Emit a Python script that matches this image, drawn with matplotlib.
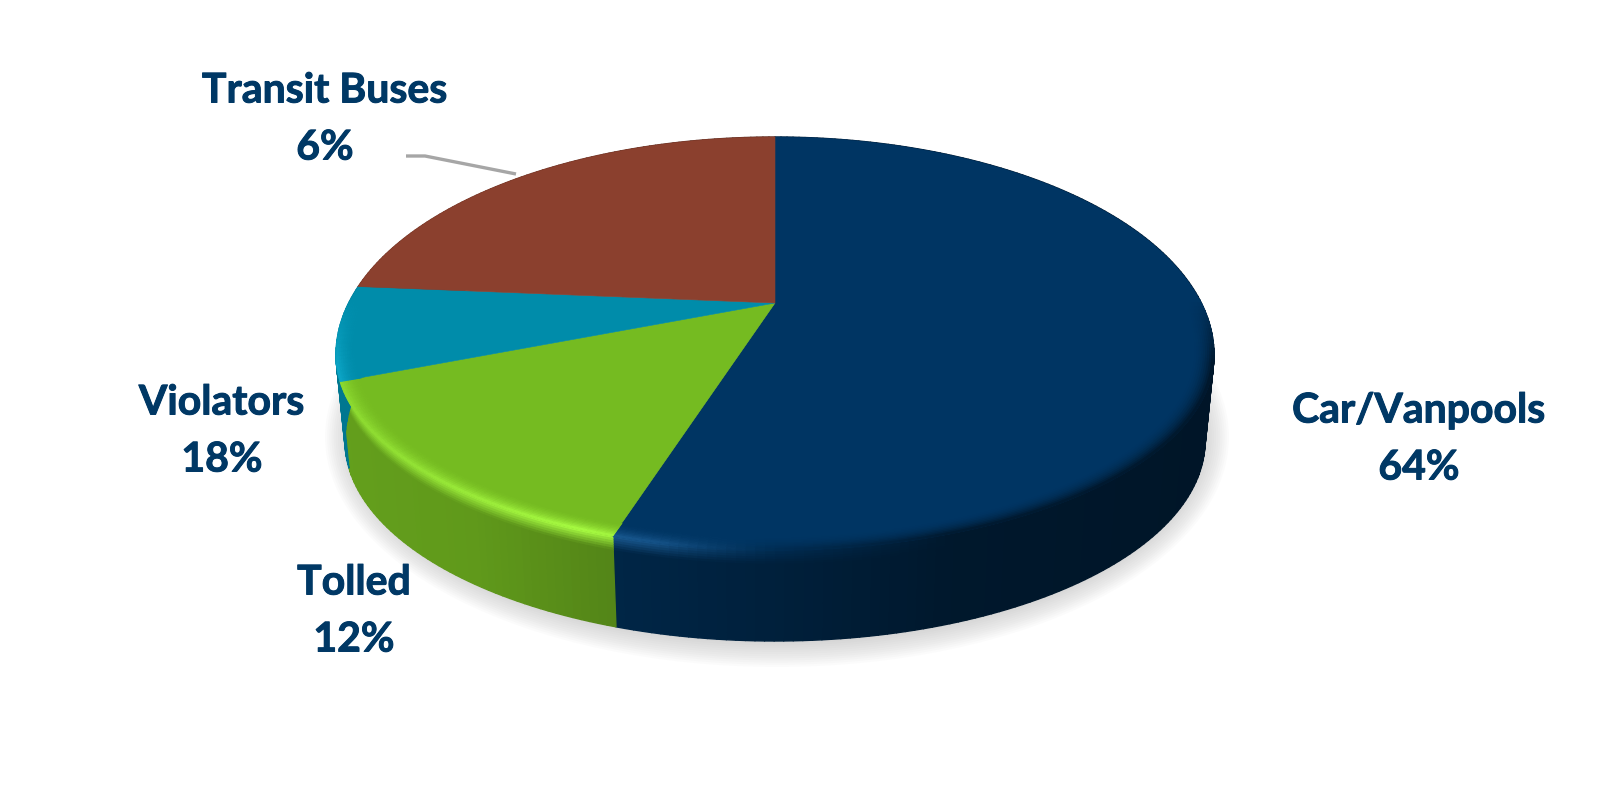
import numpy as np
import matplotlib
matplotlib.use('Agg')
import matplotlib.pyplot as plt
import matplotlib.patheffects as pe
from matplotlib.collections import PolyCollection
from matplotlib.patches import Ellipse

# Slice shares as drawn (the printed percentages in the source differ from the drawn areas)
slice_names = ['Car/Vanpools', 'Tolled', 'Teal slice', 'Brown slice']
slice_shares = [54.75, 14.35, 7.2, 23.7]
slice_colors = [(0, 53, 99), (117, 187, 33), (0, 140, 170), (139, 64, 46)]

label_names = ['Transit Buses', 'Violators', 'Tolled', 'Car/Vanpools']
label_percents = ['6%', '18%', '12%', '64%']
label_x = [325, 222, 354, 1419]
label_y = [91, 403, 583, 411]

text_color = '#003865'

# Perspective of the pie, in pixels. The outline is egg shaped: the half above
# the widest line is taller than the half below it.
cx = 775
top_cy, top_a, top_up, top_down = 355, 439, 218, 195
low_cy, low_a, low_up, low_down = 441, 430, 218, 200
tilt = 0.2385


def disc(theta, r=1.0):
    # clockwise from 12 o'clock, pushed through the perspective
    x = r * np.sin(theta)
    y = r * np.cos(theta)
    d = 1 + tilt * y
    return x * np.sqrt(1 - tilt ** 2) / d, (y + tilt) / d


def to_pixels(x, y, v=0.0):
    a = top_a + (low_a - top_a) * v
    c = top_cy + (low_cy - top_cy) * v
    up = top_up + (low_up - top_up) * v
    down = top_down + (low_down - top_down) * v
    return cx + a * x, c - np.where(y > 0, up, down) * y


def surface(theta, v):
    # v<0 is the bevel on the top face, v 0..1 runs down the side wall
    if v < 0:
        x, y = disc(theta, 1 + .045 * v)
        return to_pixels(x, y)
    x, y = disc(theta)
    return to_pixels(x, y, v)


def shade_rows(base, theta):
    base = np.array(base, dtype=float)
    x, y = disc(theta)
    side_f = np.interp(x, [-1, -.7, -.4, 0, .4, 1], [.85, .82, .72, .6, .45, .4])
    side = base * side_f
    k = np.interp(x, [-1, -.45, -.25, 0, 1], [.45, 1, .8, 0, 0])
    light = base * (1 + .22 * k) + 28 * k
    dark = np.interp(x, [-.3, .1, .4], [0, .6, 1])
    rim = light * (1 - dark) + side * dark
    w = np.clip((.25 - y) / .3, 0, 1)
    return base, rim, side, w


edges = np.cumsum([0] + slice_shares) / sum(slice_shares) * 2 * np.pi
bands = np.concatenate([np.linspace(-1, 0, 11), np.linspace(0, .16, 7)[1:], [1]])

side_polys, side_colors, bevel_polys, bevel_colors = [], [], [], []
for i, base in enumerate(slice_colors):
    n = max(int((edges[i + 1] - edges[i]) / np.radians(1.0)), 2)
    th = np.linspace(edges[i], edges[i + 1], n + 1)
    for t0, t1 in zip(th[:-1], th[1:]):
        b, rim, side, w = shade_rows(base, (t0 + t1) / 2)
        for v0, v1 in zip(bands[:-1], bands[1:]):
            vm = (v0 + v1) / 2
            pts = [surface(t, v) for t, v in [(t0, v0), (t1, v0), (t1, v1), (t0, v1)]]
            if vm < 0:
                if w == 0:
                    continue
                f = (vm + 1) ** 2
                bevel_polys.append(pts)
                bevel_colors.append(np.clip(b * (1 - f * w) + rim * f * w, 0, 255) / 255)
            else:
                f = min(vm / .16, 1)
                rim_w = rim * w + side * (1 - w)
                side_polys.append(pts)
                side_colors.append(np.clip(rim_w * (1 - f) + side * f, 0, 255) / 255)

fig = plt.figure(figsize=(16.16, 7.97), dpi=100)
ax = fig.add_axes([0, 0, 1, 1])
ax.set_xlim(0, 1616)
ax.set_ylim(797, 0)
ax.axis('off')

# soft shadow under the pie
for grow in np.linspace(22, -6, 14):
    ax.add_patch(Ellipse((cx + 2, low_cy - 4), 2 * (low_a + grow), 2 * (208 + grow),
                         fc='#808080', ec='none', alpha=0.028, zorder=1))

ax.add_collection(PolyCollection(side_polys, facecolors=side_colors, edgecolors=side_colors,
                                 linewidths=1.0, zorder=2))

# Top face, then the bevel on top of it
cen = disc(np.array(0.0), 0.0)
for i, base in enumerate(slice_colors):
    th = np.linspace(edges[i], edges[i + 1], 200)
    x, y = disc(th)
    xs = np.r_[cen[0], x]
    ys = np.r_[cen[1], y]
    px, py = to_pixels(xs, ys)
    c = np.array(base) / 255
    ax.fill(px, py, fc=c, ec=c, lw=0.4, zorder=3)

ax.add_collection(PolyCollection(bevel_polys, facecolors=bevel_colors, edgecolors=bevel_colors,
                                 linewidths=0.8, zorder=4))

# leader line for Transit Buses
ax.plot([406, 425, 516], [156, 156, 174], color='#a6a6a6', lw=2.4, zorder=5,
        solid_capstyle='butt')

stroke = [pe.withStroke(linewidth=0.7, foreground=text_color)]
for name, pct, lx, ly in zip(label_names, label_percents, label_x, label_y):
    ax.text(lx, ly, name, ha='center', va='center', fontsize=29.5, fontweight='bold',
            family='Lato', color=text_color, zorder=6, path_effects=stroke)
    ax.text(lx, ly + 57, pct, ha='center', va='center', fontsize=29.5, fontweight='bold',
            family='Lato', color=text_color, zorder=6, path_effects=stroke)

fig.savefig('out.png', dpi=100, facecolor='white')
